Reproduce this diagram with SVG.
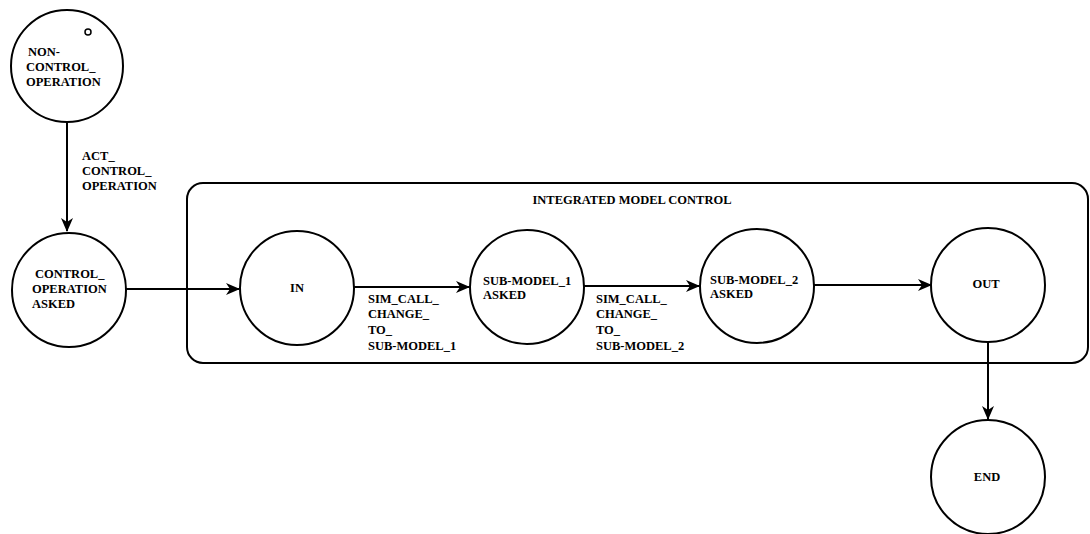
<svg xmlns="http://www.w3.org/2000/svg" width="1090" height="534" viewBox="0 0 1090 534">
<defs>
<style>
.st{fill:#fff;stroke:#000;stroke-width:2}
.t{font-family:'Liberation Serif','Times New Roman',serif;font-weight:bold;font-size:12.5px;fill:#000}
.c{stroke:#000;stroke-width:2;fill:none}
</style>
<marker id="ah" markerWidth="14" markerHeight="12" refX="13" refY="6" orient="auto" markerUnits="userSpaceOnUse">
<path d="M0,0 L14,6 L0,12 L4,6 Z" fill="#000"/>
</marker>
</defs>
<rect width="1090" height="534" fill="#fff"/>
<g id="container">
<rect x="187" y="183" width="901" height="180" rx="16" ry="16" fill="none" stroke="#000" stroke-width="2"/>
<text class="t" x="632" y="204" text-anchor="middle">INTEGRATED MODEL CONTROL</text>
</g>
<g id="connectors">
<line class="c" x1="67" y1="122" x2="67" y2="231" marker-end="url(#ah)"/>
<text class="t" x="82" y="160">ACT_</text>
<text class="t" x="82" y="175">CONTROL_</text>
<text class="t" x="82" y="190">OPERATION</text>
<line class="c" x1="126" y1="289" x2="239" y2="289" marker-end="url(#ah)"/>
<line class="c" x1="354" y1="287" x2="469" y2="287" marker-end="url(#ah)"/>
<text class="t" x="368" y="303">SIM_CALL_</text>
<text class="t" x="368" y="318">CHANGE_</text>
<text class="t" x="368" y="334">TO_</text>
<text class="t" x="368" y="350">SUB-MODEL_1</text>
<line class="c" x1="584" y1="286" x2="699" y2="286" marker-end="url(#ah)"/>
<text class="t" x="596" y="303">SIM_CALL_</text>
<text class="t" x="596" y="318">CHANGE_</text>
<text class="t" x="596" y="334">TO_</text>
<text class="t" x="596" y="350">SUB-MODEL_2</text>
<line class="c" x1="814" y1="285" x2="931" y2="285" marker-end="url(#ah)"/>
<line class="c" x1="988" y1="342" x2="988" y2="419" marker-end="url(#ah)"/>
</g>
<g id="non_control_operation">
<circle class="st" cx="67" cy="66" r="56"/>
<circle cx="88" cy="32" r="3" fill="none" stroke="#000" stroke-width="1.5"/>
<text class="t" x="28" y="56">NON-</text>
<text class="t" x="26" y="71">CONTROL_</text>
<text class="t" x="26" y="86">OPERATION</text>
</g>
<g id="control_operation_asked">
<circle class="st" cx="69" cy="290" r="57"/>
<text class="t" x="35" y="278">CONTROL_</text>
<text class="t" x="32" y="293">OPERATION</text>
<text class="t" x="32" y="308">ASKED</text>
</g>
<g id="in">
<circle class="st" cx="297" cy="288" r="57"/>
<text class="t" x="297" y="292" text-anchor="middle">IN</text>
</g>
<g id="sub_model_1_asked">
<circle class="st" cx="527" cy="287" r="57"/>
<text class="t" x="483" y="285">SUB-MODEL_1</text>
<text class="t" x="483" y="299">ASKED</text>
</g>
<g id="sub_model_2_asked">
<circle class="st" cx="757" cy="286" r="57"/>
<text class="t" x="710" y="284">SUB-MODEL_2</text>
<text class="t" x="710" y="298">ASKED</text>
</g>
<g id="out">
<circle class="st" cx="988" cy="285" r="57"/>
<text class="t" x="986" y="288" text-anchor="middle">OUT</text>
</g>
<g id="end">
<circle class="st" cx="988" cy="477" r="57"/>
<text class="t" x="987" y="481" text-anchor="middle">END</text>
</g>
</svg>
